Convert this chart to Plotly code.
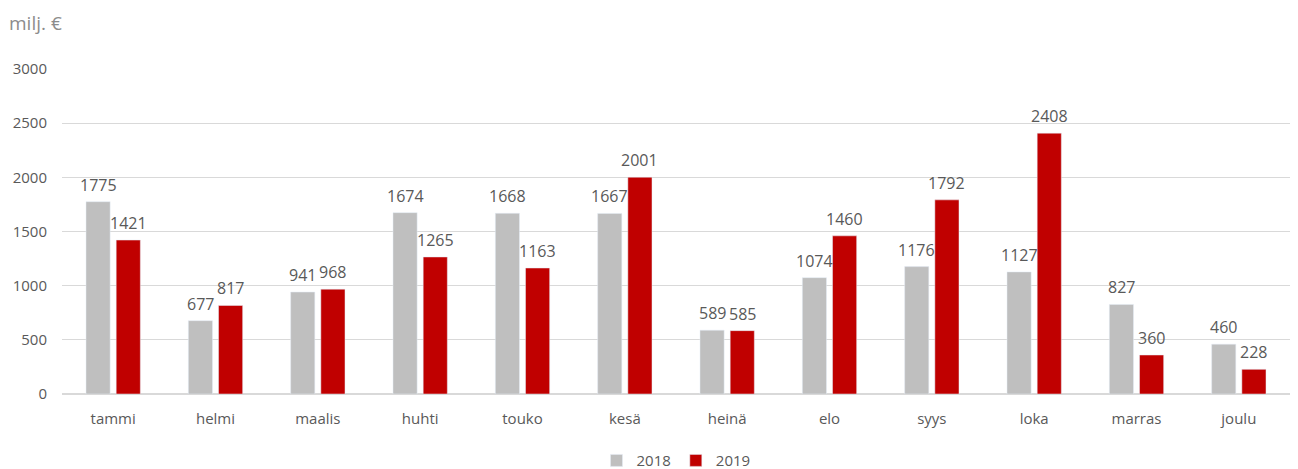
import plotly.graph_objects as go

months = ["tammi", "helmi", "maalis", "huhti", "touko", "kesä", "heinä", "elo", "syys", "loka", "marras", "joulu"]
v2018 = [1775, 677, 941, 1674, 1668, 1667, 589, 1074, 1176, 1127, 827, 460]
v2019 = [1421, 817, 968, 1265, 1163, 2001, 585, 1460, 1792, 2408, 360, 228]
y_ticks = [0, 500, 1000, 1500, 2000, 2500, 3000]

FONT = "Open Sans"
TXT = "#595959"

fig = go.Figure()
fig.add_trace(go.Bar(x=months, y=v2018, name="2018", marker_color="#bfbfbf"))
fig.add_trace(go.Bar(x=months, y=v2019, name="2019", marker_color="#c00000"))

# data labels positioned at data coordinates, shifted to each bar's column
for vals, shift in ((v2018, -15), (v2019, 15)):
    for m, v in zip(months, vals):
        fig.add_annotation(x=m, y=v, xref="x", yref="y", text=str(v), showarrow=False,
                           xshift=shift, yshift=4, yanchor="bottom", xanchor="center",
                           font=dict(size=16, color=TXT, family=FONT))

fig.update_layout(
    width=1290, height=461,
    margin=dict(l=54, r=8, t=61, b=75, autoexpand=False),
    paper_bgcolor="white", plot_bgcolor="white",
    barmode="group", bargap=0.41, bargroupgap=0.2,
    font=dict(family=FONT, size=15, color=TXT),
    showlegend=True,
    legend=dict(orientation="h", x=0.5, xanchor="center", y=-0.205, yanchor="middle",
                font=dict(size=15, color=TXT), traceorder="normal"),
)
fig.update_yaxes(range=[0, 3000], tickvals=y_ticks, showgrid=True, gridcolor="#d9d9d9",
                 gridwidth=1, zeroline=True, zerolinecolor="#d9d9d9", zerolinewidth=2,
                 ticks="", ticklabelstandoff=14, tickfont=dict(size=15, color=TXT))
fig.update_xaxes(showline=False, ticks="", ticklabelstandoff=14,
                 tickfont=dict(size=15, color=TXT))

fig.add_annotation(text="milj. €", xref="paper", yref="paper", x=-0.045, y=1.095,
                   xanchor="left", yanchor="bottom", showarrow=False,
                   font=dict(size=19, color="#8c8c8c", family=FONT))

fig.write_html("out.html")
